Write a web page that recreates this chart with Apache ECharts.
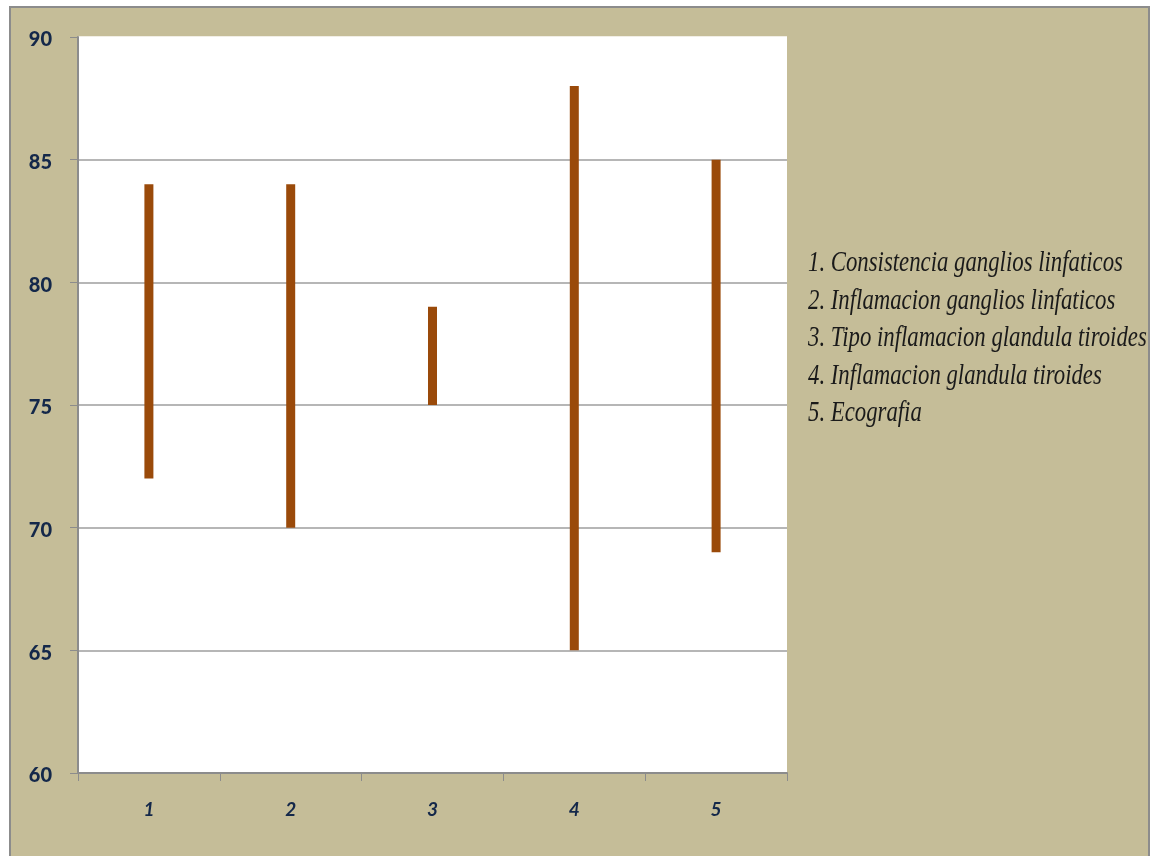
<!DOCTYPE html>
<html>
<head>
<meta charset="utf-8">
<script src="https://cdn.jsdelivr.net/npm/echarts@6/dist/echarts.min.js"></script>
<style>
  html, body { margin: 0; padding: 0; background: #ffffff; }
  #chart { width: 1158px; height: 856px; }
</style>
</head>
<body>
<div id="chart"></div>
<script>
// Category numbers along the x axis
const categories = ['1', '2', '3', '4', '5'];
// Lower and upper end of each range
const lowValues = [72, 70, 75, 65, 69];
const highValues = [84, 84, 79, 88, 85];
// Descriptions shown on the right
const descriptions = [
  '1. Consistencia ganglios linfaticos',
  '2. Inflamacion ganglios linfaticos',
  '3. Tipo inflamacion glandula tiroides',
  '4. Inflamacion glandula tiroides',
  '5. Ecografia'
];

const spans = highValues.map((h, i) => h - lowValues[i]);
const gridColor = '#9e9e9e';
const labelColor = '#14284a';

const chart = echarts.init(document.getElementById('chart'));

const descGraphics = descriptions.map((t, i) => ({
  type: 'text',
  x: 808,
  y: 249 + i * 37.5,
  scaleX: 0.785,
  style: {
    text: t,
    fill: '#1a1a1a',
    fontFamily: '"Liberation Serif", serif',
    fontStyle: 'italic',
    fontSize: 29
  },
  z: 10
}));

chart.setOption({
  backgroundColor: '#ffffff',
  animation: false,
  graphic: [
    {
      type: 'rect',
      shape: { x: 10, y: 7, width: 1139, height: 860 },
      style: { fill: '#c5bd98', stroke: '#8c8c8c', lineWidth: 2 },
      z: -10
    },
    {
      type: 'rect',
      shape: { x: 79, y: 37, width: 708, height: 736 },
      style: { fill: '#ffffff' },
      z: -9
    },
    ...descGraphics
  ],
  grid: { left: 78, top: 37, right: 371, bottom: 83 },
  xAxis: {
    type: 'category',
    data: categories,
    axisLine: { lineStyle: { color: '#8c8c8c', width: 2 } },
    axisTick: { show: true, alignWithLabel: false, length: 8, lineStyle: { color: '#8c8c8c', width: 1 } },
    axisLabel: {
      color: labelColor,
      fontFamily: 'Lato, "Open Sans", sans-serif',
      fontWeight: 'bold',
      fontStyle: 'italic',
      fontSize: 19,
      margin: 27
    }
  },
  yAxis: {
    type: 'value',
    min: 60,
    max: 90,
    interval: 5,
    axisLine: { show: true, lineStyle: { color: '#8c8c8c', width: 2 } },
    axisTick: { show: true, length: 8, lineStyle: { color: '#8c8c8c', width: 1 } },
    splitLine: {
      lineStyle: {
        color: [gridColor, gridColor, gridColor, gridColor, gridColor, gridColor, '#ffffff'],
        width: 1.5
      }
    },
    axisLabel: {
      color: labelColor,
      fontFamily: 'Lato, "Open Sans", sans-serif',
      fontWeight: 900,
      fontSize: 20,
      margin: 26,
      verticalAlign: 'top',
      lineHeight: 20,
      padding: [-7, 0, 0, 0]
    }
  },
  series: [
    {
      name: 'base',
      type: 'bar',
      stack: 'range',
      data: lowValues,
      barWidth: 9,
      itemStyle: { color: 'transparent' },
      silent: true
    },
    {
      name: 'range',
      type: 'bar',
      stack: 'range',
      data: spans,
      barWidth: 9,
      itemStyle: { color: '#9a4a0a' }
    }
  ]
});
</script>
</body>
</html>
